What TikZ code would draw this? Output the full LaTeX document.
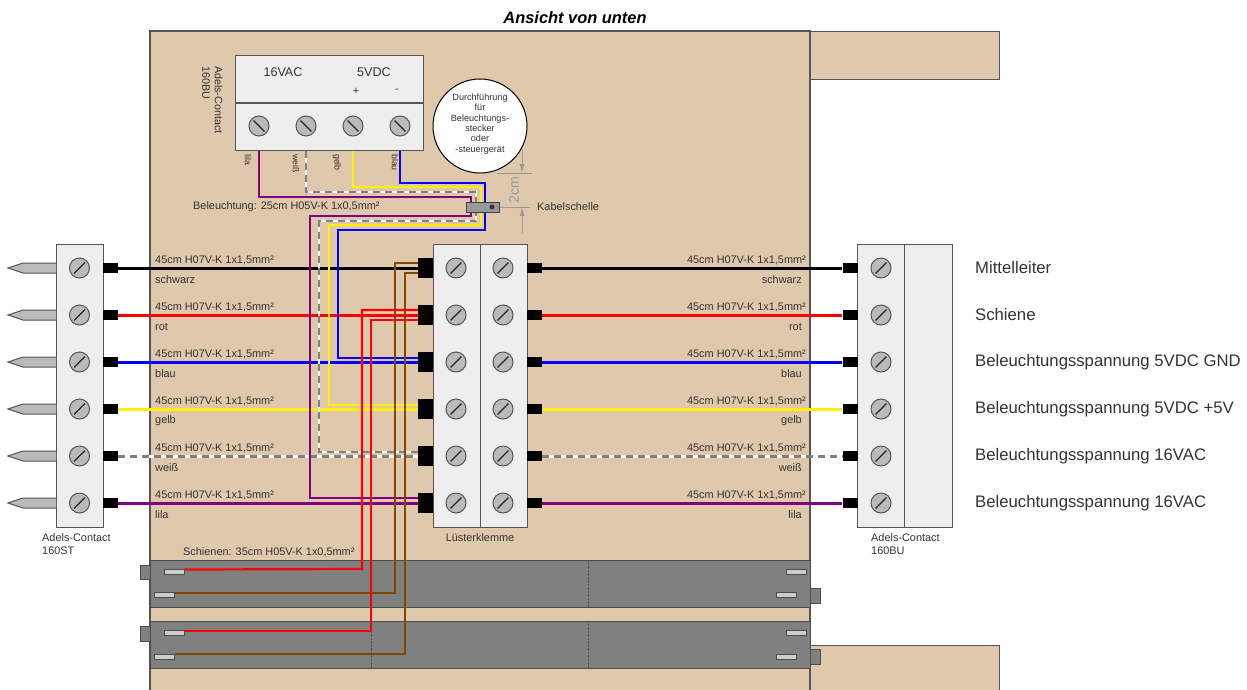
\documentclass[tikz,border=0pt]{standalone}
\usepackage{fontspec}
\setmainfont{Liberation Sans}
\usetikzlibrary{arrows.meta}
\definecolor{brett}{HTML}{DFC8AC}
\definecolor{klemme}{HTML}{EEEEEE}
\definecolor{rand}{HTML}{555555}
\definecolor{lila}{HTML}{800080}
\definecolor{braun}{HTML}{7F4A00}
\begin{document}
\begin{tikzpicture}[x=1pt, y=-1pt,
                every node/.style={font=\fontsize{10.9}{12.5}\selectfont, text=black!80, inner sep=0pt},
                box/.style={draw=rand, fill=klemme, line width=1pt, inner sep=0pt},
                plug/.style={fill=black, minimum width=15pt, minimum height=10pt},
                plugbig/.style={fill=black, minimum width=15pt, minimum height=20pt},
                screw/.style={circle, draw=rand, fill=black!27, line width=1pt, minimum size=20pt,
                    path picture={\draw[black!85, line width=1.2pt, shorten >=6.4pt, shorten <=6.4pt]
                    (path picture bounding box.south west) -- (path picture bounding box.north east);}},
                screwtop/.style={circle, draw=rand, fill=black!27, line width=1pt, minimum size=20pt,
                    path picture={\draw[black!85, line width=1.2pt, shorten >=6.4pt, shorten <=6.4pt]
                    (path picture bounding box.north west) -- (path picture bounding box.south east);}},
                lbl/.style={anchor=west},
                lblr/.style={anchor=east},
                lblv/.style={anchor=west, rotate=-90, font=\fontsize{8.8}{10}\selectfont},
                big/.style={anchor=west, font=\fontsize{16.7}{18}\selectfont},
                slot/.style={draw=black!70, fill=black!20, line width=1pt, minimum width=20pt, minimum height=5pt},
                tab/.style={draw=black!70, fill=gray, line width=1pt},
                rail/.style={draw=black!70, fill=gray, line width=1pt},
                wire/.style={line width=2.2pt},
                mainwire/.style={line width=3pt},
                weiss/.style={draw=white, line width=2.2pt, postaction={draw=gray, dash pattern=on 7pt off 5pt}},
                weissmain/.style={draw=white, line width=3pt, postaction={draw=gray, dash pattern=on 7pt off 5pt}},
                dimline/.style={draw=black!40, line width=1pt}]

    \clip (0,0) rectangle (1247,689);

    % board
    \draw[brett, fill=brett] (810,31) rectangle (999,79);
    \draw[brett, fill=brett] (810,645) rectangle (999,700);
    \draw[rand, line width=1pt] (810,79) -- (999,79) -- (999,31) -- (810,31);
    \draw[rand, line width=1pt] (810,645) -- (999,645) -- (999,700);
    \draw[rand, line width=1.3pt, fill=brett] (150,31) rectangle (810,700);

    % rails
    \foreach \t in {560, 621}{
        \draw[rail] (150,\t) rectangle (810,\t+47);
        \draw[black!70, densely dotted] (371,\t) -- (371,\t+47);
        \draw[black!70, densely dotted] (588,\t) -- (588,\t+47);
    }
    \draw[tab] (140,565) rectangle (150,579);
    \draw[tab] (140,626) rectangle (150,641);
    \draw[tab] (810,588) rectangle (820,603);
    \draw[tab] (810,649) rectangle (820,664);

    \node[slot] (RA) at (174,571.5) {};
    \node[slot] (RB) at (164,595) {};
    \node[slot] (RC) at (174,633) {};
    \node[slot] (RD) at (164,657) {};
    \node[slot] (RE) at (796,572) {};
    \node[slot] (RF) at (786,595) {};
    \node[slot] (RG) at (796,633) {};
    \node[slot] (RH) at (786,657) {};

    % terminal blocks
    \node[box, minimum width=47pt, minimum height=283pt] (LC) at (79.5,385.5) {};
    \node[box, minimum width=94pt, minimum height=283pt] (KK) at (480,385.5) {};
    \node[box, minimum width=95pt, minimum height=283pt] (BC) at (904.5,385.5) {};
    \node[box, minimum width=188pt, minimum height=95pt] (UB) at (329,102.5) {};
    \draw[rand, line width=1pt] (KK.north) -- (KK.south);
    \draw[rand, line width=1pt] (904,244) -- (904,527);
    \draw[rand, line width=1.3pt] (235,103) -- (423,103);

    % pins, plugs and screws of the six rows
    \foreach \y/\n in {268/1, 315/2, 362/3, 409/4, 456/5, 503/6}{
        \draw[rand, fill=black!27, line width=1pt] (56,\y-5) -- (23,\y-5) -- (8,\y) -- (23,\y+5) -- (56,\y+5);
        \node[screw] (LS\n) at (79.5,\y) {};
        \node[screw] (KS\n) at (456,\y) {};
        \node[screw] (KT\n) at (503,\y) {};
        \node[screw] (BS\n) at (881,\y) {};
        \node[plug] (LP\n) at (110.5,\y) {};
        \node[plugbig] (KL\n) at (425.5,\y) {};
        \node[plug] (KR\n) at (534.5,\y) {};
        \node[plug] (BP\n) at (850,\y) {};
    }
    \foreach \x/\n in {259/1, 306/2, 353/3, 400/4}
        \node[screwtop] (US\n) at (\x,126) {};

    % main wires
    \path
        (LP1) edge[mainwire, black] (KL1)
        (KR1) edge[mainwire, black] (BP1)
        (LP2) edge[mainwire, red] (KL2)
        (KR2) edge[mainwire, red] (BP2)
        (LP3) edge[mainwire, blue] (KL3)
        (KR3) edge[mainwire, blue] (BP3)
        (LP4) edge[mainwire, yellow] (KL4)
        (KR4) edge[mainwire, yellow] (BP4)
        (LP5) edge[weissmain] (KL5)
        (KR5) edge[weissmain] (BP5)
        (LP6) edge[mainwire, lila] (KL6)
        (KR6) edge[mainwire, lila] (BP6);

    % lighting wires
    \draw[wire, lila] (US1 |- UB.south) |- (471,197) |- (310,216) |- ([yshift=5pt]KL6.west);
    \draw[weiss] (US2 |- UB.south) |- (476,192) |- (319,221) |- ([yshift=4pt]KL5.west);
    \draw[wire, yellow] (US3 |- UB.south) |- (481,187) |- (329,225) |- ([yshift=4pt]KL4.west);
    \draw[wire, blue] (US4 |- UB.south) |- (485,183) |- (338,230) |- ([yshift=4pt]KL3.west);

    % rail wires
    \draw[wire, braun] ([yshift=2pt]RB.east) -- (395,593) |- ([yshift=5pt]KL1.west);
    \draw[wire, braun] ([yshift=3pt]RD.east) -- (405,654) |- ([yshift=-5pt]KL1.west);
    \draw[wire, red] ([yshift=2pt]RA.east) -- (362,569) |- ([yshift=5pt]KL2.west);
    \draw[wire, red] ([yshift=2pt]RC.east) -- (371,631) |- ([yshift=-5pt]KL2.west);

    % clamp and 2cm measure
    \node[draw=black!75, fill=black!40, line width=1pt, minimum width=33pt, minimum height=10pt] (SC) at (482.5,207) {};
    \node[circle, fill=black!80, minimum size=5pt] (SD) at (492,207) {};
    \node[circle, draw=black, fill=white, line width=1pt, minimum size=94pt] (DF) at (480,126) {};
    \coordinate (dimA) at (522,150);
    \coordinate (dimB) at (522,173);
    \coordinate (dimC) at (522,233);
    \coordinate (dimD) at (522,207);
    \coordinate (dimE) at (497,173);
    \coordinate (dimF) at (532,173);
    \coordinate (dimG) at (530,207);
    \draw[dimline, -{Latex[length=9pt,width=5pt]}] (dimA) -- (dimB);
    \draw[dimline, -{Latex[length=9pt,width=5pt]}] (dimC) -- (dimD);
    \draw[dimline] (dimE) -- (dimF);
    \draw[dimline] (SC.east) -- (dimG);

    % texts
    \node[font=\fontsize{16.4}{18}\selectfont\bfseries\itshape, text=black] (TI) at (575,18) {Ansicht von unten};
    \node[font=\fontsize{12.6}{14}\selectfont] (TA) at (283,72) {16VAC};
    \node[font=\fontsize{12.6}{14}\selectfont] (TB) at (374,72) {5VDC};
    \node (TC) at (356,91) {+};
    \node (TD) at (397,91) {-};
    \node[anchor=south west, rotate=-90, align=left, font=\fontsize{10.7}{12.5}\selectfont] (TE) at (202,66) {Adels-Contact\\160BU};
    \node[lblv] (VA) at (248,154) {lila};
    \node[lblv] (VB) at (296,154) {weiß};
    \node[lblv] (VC) at (337,154) {gelb};
    \node[lblv] (VD) at (395,154) {blau};
    \node[align=center, font=\fontsize{9.1}{10.4}\selectfont] (DT) at (480,124) {Durchführung\\für\\Beleuchtungs-\\stecker\\oder\\-steuergerät};
    \node[lbl] (TF) at (193,207) {Beleuchtung: 25cm H05V-K 1x0,5mm²};
    \node[lbl] (TG) at (537,207) {Kabelschelle};
    \node[rotate=90, text=black!40, font=\fontsize{14}{16}\selectfont] (TH) at (514,190) {2cm};
    \node[lbl] (TJ) at (183,552) {Schienen: 35cm H05V-K 1x0,5mm²};
    \node[lbl, align=left] (TK) at (42,544) {Adels-Contact\\160ST};
    \node (TL) at (480,538) {Lüsterklemme};
    \node[lbl, align=left] (TM) at (871,544) {Adels-Contact\\160BU};

    \foreach \y/\n/\c in {268/1/schwarz, 315/2/rot, 362/3/blau, 409/4/gelb, 456/5/weiß, 503/6/lila}{
        \node[lbl] (WA\n) at (155,\y-8) {45cm H07V-K 1x1,5mm²};
        \node[lbl] (WB\n) at (155,\y+12) {\c};
        \node[lblr] (WC\n) at (806,\y-8) {45cm H07V-K 1x1,5mm²};
        \node[lblr] (WD\n) at (802,\y+12) {\c};
    }
    \node[big] (BA) at (975,268) {Mittelleiter};
    \node[big] (BB) at (975,315) {Schiene};
    \node[big] (BD) at (975,362) {Beleuchtungsspannung 5VDC GND};
    \node[big] (BE) at (975,409) {Beleuchtungsspannung 5VDC +5V};
    \node[big] (BF) at (975,456) {Beleuchtungsspannung 16VAC};
    \node[big] (BG) at (975,503) {Beleuchtungsspannung 16VAC};

\end{tikzpicture}
\end{document}
